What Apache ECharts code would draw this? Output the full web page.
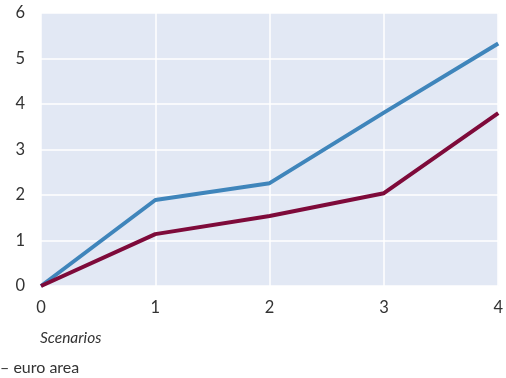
<!DOCTYPE html>
<html>
<head>
<meta charset="utf-8">
<script src="https://cdn.jsdelivr.net/npm/echarts@6/dist/echarts.min.js"></script>
<style>
  html, body { margin: 0; padding: 0; background: #fff; }
  #chart { width: 506px; height: 378px; }
</style>
</head>
<body>
<div id="chart"></div>
<script>
// Scenario steps on the x axis
const scenarios = [0, 1, 2, 3, 4];
// Two paths across the scenarios
const blueSeries = [0, 1.89, 2.26, 3.81, 5.33];
const redSeries = [0, 1.14, 1.54, 2.04, 3.80];
const yTicks = [0, 1, 2, 3, 4, 5, 6];

const FONT = 'Lato';

const chart = echarts.init(document.getElementById('chart'));
chart.setOption({
  animation: false,
  grid: {
    left: 41, right: 5, top: 13, bottom: 92,
    show: true, backgroundColor: '#e2e8f4', borderWidth: 0
  },
  xAxis: {
    type: 'value',
    min: scenarios[0], max: scenarios[scenarios.length - 1], interval: 1,
    axisLine: { show: false },
    axisTick: { show: false },
    splitLine: { show: true, lineStyle: { color: '#ffffff', width: 1.5 } },
    axisLabel: { color: '#333', fontFamily: FONT, fontSize: 16.5, margin: 13 }
  },
  yAxis: {
    type: 'value',
    min: yTicks[0], max: yTicks[yTicks.length - 1], interval: 1,
    axisLine: { show: false },
    axisTick: { show: false },
    splitLine: { show: true, lineStyle: { color: '#ffffff', width: 1.5 } },
    axisLabel: { color: '#333', fontFamily: FONT, fontSize: 16.5, margin: 16 }
  },
  series: [
    {
      type: 'line',
      data: scenarios.map((x, i) => [x, blueSeries[i]]),
      symbol: 'none',
      lineStyle: { color: '#3f85bb', width: 4 },
      z: 3
    },
    {
      type: 'line',
      data: scenarios.map((x, i) => [x, redSeries[i]]),
      symbol: 'none',
      lineStyle: { color: '#7e0a3a', width: 4 },
      z: 4
    }
  ],
  graphic: [
    {
      type: 'text', left: 40, top: 330,
      style: { text: 'Scenarios', fontFamily: FONT, fontStyle: 'italic', fontSize: 15.5, fill: '#333' }
    },
    {
      type: 'text', left: 0, top: 360,
      style: { text: '– euro area', fontFamily: FONT, fontSize: 16, fill: '#333' }
    }
  ]
});
</script>
</body>
</html>
